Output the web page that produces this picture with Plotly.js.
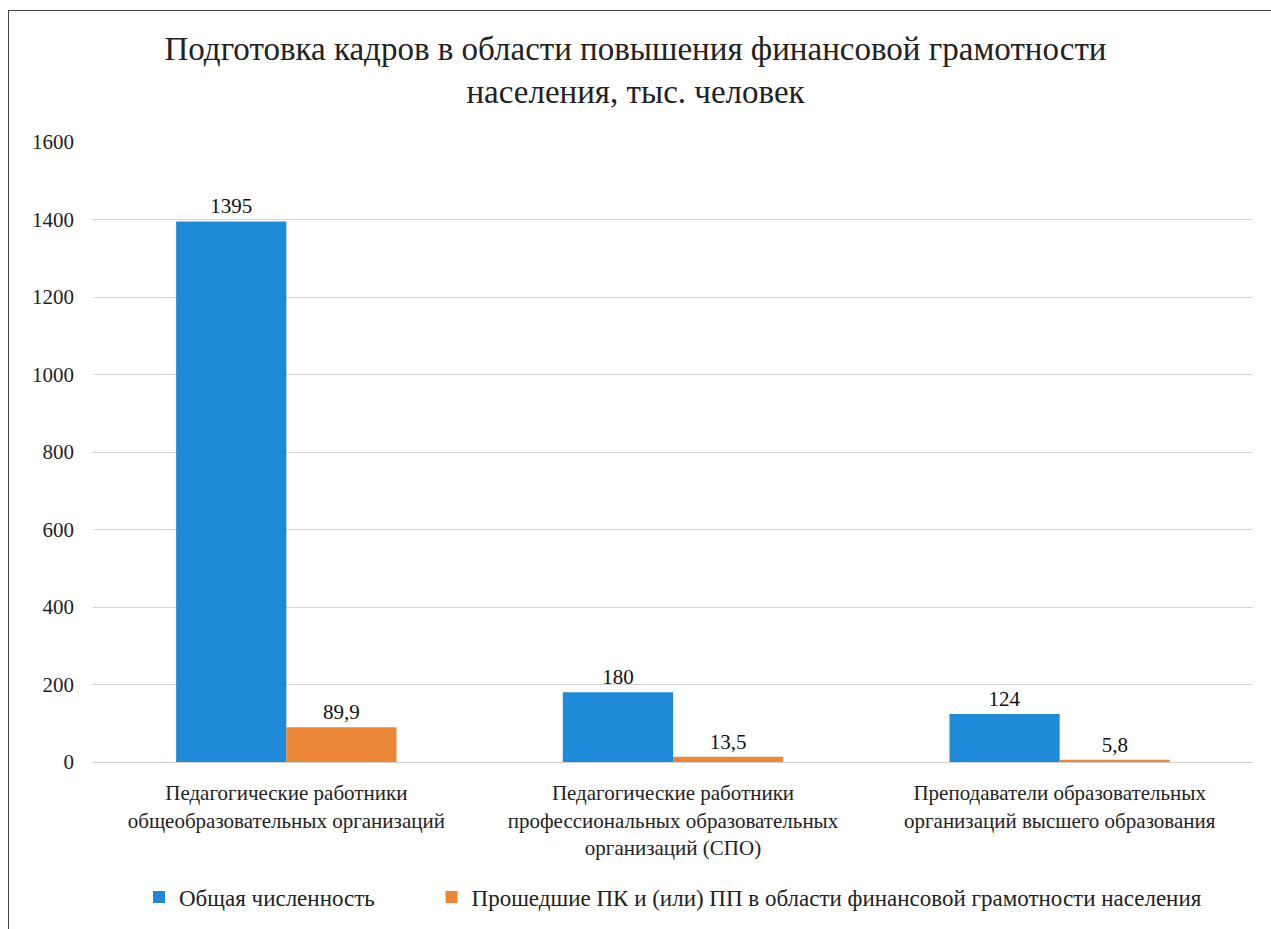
<!DOCTYPE html>
<html><head><meta charset="utf-8">
<script src="https://cdn.plot.ly/plotly-3.0.1.min.js"></script>
<style>
html,body{margin:0;padding:0;background:#fff;overflow:hidden;width:1271px;height:929px;}
#frame{position:absolute;left:8px;top:10px;right:-4px;bottom:-4px;border:1.5px solid #444;pointer-events:none;z-index:10;}
#chart{position:absolute;left:0;top:0;width:1271px;height:929px;}
</style></head>
<body>
<div id="chart"></div>
<div id="frame"></div>
<script>
const categories = [
  "Педагогические работники<br>общеобразовательных организаций",
  "Педагогические работники<br>профессиональных образовательных<br>организаций (СПО)",
  "Преподаватели образовательных<br>организаций высшего образования"
];
const seriesNames = ["Общая численность", "Прошедшие ПК и (или) ПП в области финансовой грамотности населения"];
const totalValues = [1395, 180, 124];
const totalLabels = ["1395", "180", "124"];
const trainedValues = [89.9, 13.5, 5.8];
const trainedLabels = ["89,9", "13,5", "5,8"];
const yTicks = [0, 200, 400, 600, 800, 1000, 1200, 1400, 1600];

const font = "'Liberation Serif', 'Times New Roman', serif";
const traces = [
  {type:"bar", name:seriesNames[0] + "\u00a0\u00a0\u00a0\u00a0\u00a0\u00a0\u00a0\u00a0\u00a0", x:categories, y:totalValues, text:totalLabels,
   textposition:"outside", cliponaxis:false, marker:{color:"#1f8ad8"},
   textfont:{family:font, size:21, color:"#111"}},
  {type:"bar", name:seriesNames[1], x:categories, y:trainedValues, text:trainedLabels,
   textposition:"outside", cliponaxis:false, marker:{color:"#ec8737"},
   textfont:{family:font, size:21, color:"#111"}}
];
const layout = {
  width:1271, height:929,
  margin:{l:93, r:18, t:142, b:167, autoexpand:false},
  paper_bgcolor:"#fff", plot_bgcolor:"#fff",
  font:{family:font, size:20, color:"#222"},
  title:{text:"Подготовка кадров в области повышения финансовой грамотности<br>населения, тыс. человек",
         font:{family:font, size:33, color:"#222"}, x:0.5, xanchor:"center", y:0.935, yanchor:"top"},
  barmode:"group", bargap:0.43, bargroupgap:0,
  xaxis:{type:"category", showgrid:false, showline:true, linecolor:"#d0d0d0", linewidth:1,
         tickfont:{family:font, size:21, color:"#222"}, ticks:"", ticklabelstandoff:12, automargin:false},
  yaxis:{range:[0,1600], tickvals:yTicks, showgrid:true, gridcolor:"#d6d6d6", gridwidth:1,
         zeroline:false, showline:false, ticks:"", ticklabelstandoff:18,
         tickfont:{family:font, size:21, color:"#222"}, automargin:false},
  showlegend:true,
  legend:{orientation:"h", x:0.5, xanchor:"center", yref:"container", y:0.0344, yanchor:"middle",
          font:{family:font, size:23, color:"#222"}, itemwidth:30, traceorder:"normal"}
};
Plotly.newPlot("chart", traces, layout, {displayModeBar:false, staticPlot:true});
</script>
</body></html>
